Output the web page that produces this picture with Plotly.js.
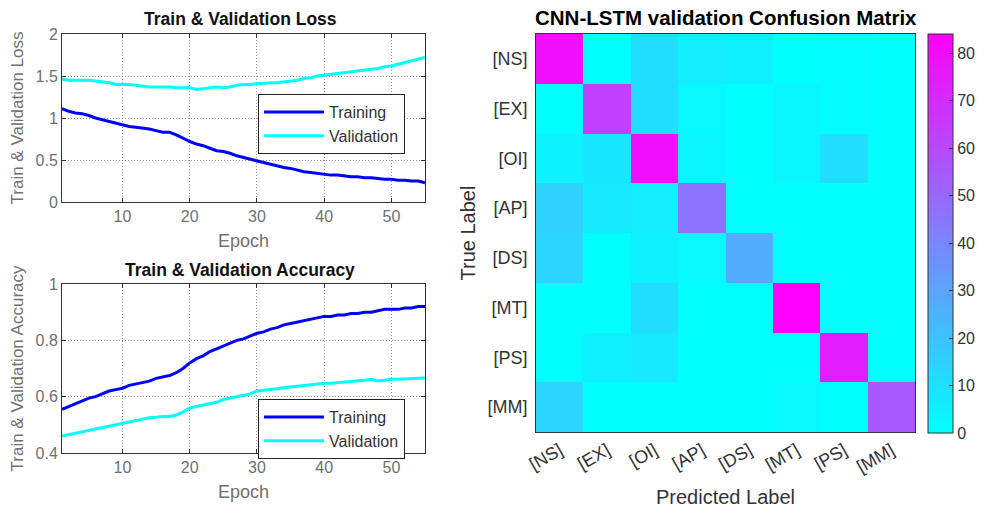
<!DOCTYPE html>
<html><head><meta charset="utf-8">
<script src="https://cdn.plot.ly/plotly-3.0.1.min.js"></script>
<style>html,body{margin:0;padding:0;background:#fff}#plot{width:1006px;height:516px}</style>
</head><body><div id="plot"></div>
<script>
const epochs = Array.from({length:55},(_,i)=>i+1);
const trainLoss = [1.11,1.08,1.06,1.05,1.03,1.00,0.98,0.96,0.94,0.92,0.90,0.89,0.88,0.87,0.85,0.83,0.83,0.80,0.76,0.72,0.69,0.67,0.64,0.61,0.60,0.58,0.55,0.53,0.51,0.49,0.47,0.45,0.43,0.41,0.40,0.38,0.36,0.35,0.34,0.33,0.32,0.32,0.31,0.30,0.30,0.29,0.29,0.28,0.27,0.27,0.26,0.26,0.25,0.25,0.23];
const valLoss = [1.46,1.45,1.45,1.45,1.45,1.44,1.43,1.42,1.40,1.40,1.40,1.39,1.38,1.37,1.37,1.37,1.37,1.36,1.36,1.36,1.34,1.35,1.36,1.37,1.36,1.37,1.39,1.40,1.40,1.41,1.41,1.42,1.42,1.43,1.44,1.45,1.47,1.48,1.50,1.51,1.52,1.53,1.54,1.55,1.56,1.57,1.58,1.59,1.61,1.62,1.64,1.66,1.68,1.70,1.72];
const trainAcc = [0.555,0.565,0.575,0.585,0.595,0.60,0.61,0.62,0.625,0.63,0.64,0.645,0.65,0.655,0.665,0.67,0.675,0.685,0.70,0.72,0.735,0.745,0.76,0.77,0.78,0.79,0.80,0.805,0.815,0.825,0.83,0.84,0.845,0.855,0.86,0.865,0.87,0.875,0.88,0.885,0.885,0.89,0.89,0.895,0.895,0.90,0.90,0.905,0.91,0.91,0.91,0.915,0.915,0.92,0.92];
const valAcc = [0.46,0.465,0.47,0.475,0.48,0.485,0.49,0.495,0.50,0.505,0.51,0.515,0.52,0.525,0.527,0.53,0.53,0.535,0.545,0.56,0.565,0.57,0.575,0.58,0.59,0.595,0.60,0.605,0.61,0.62,0.622,0.625,0.628,0.632,0.635,0.638,0.64,0.642,0.645,0.648,0.648,0.65,0.652,0.654,0.655,0.658,0.662,0.656,0.658,0.662,0.662,0.663,0.664,0.665,0.666];
const classes = ["[NS]","[EX]","[OI]","[AP]","[DS]","[MT]","[PS]","[MM]"];
const confRows = [
  [79,0,11,6,5,0,1,0],
  [0,63,11,2,0,3,1,0],
  [4,8,79,3,0,3,11,0],
  [15,7,6,46,0,0,0,0],
  [14,0,5,2,27,0,0,0],
  [0,0,11,0,0,84,0,0],
  [0,5,7,0,0,0,74,0],
  [14,0,0,0,0,2,0,55]
];

const W=1006,H=516;
const px=v=>v/W, py=v=>(H-v)/H;
const gray='#707070';
const font='Liberation Sans, Arial, sans-serif';

const traces=[
  {x:epochs,y:trainLoss,type:'scatter',mode:'lines',name:'Training',line:{color:'#0000ff',width:3},xaxis:'x',yaxis:'y',legend:'legend'},
  {x:epochs,y:valLoss,type:'scatter',mode:'lines',name:'Validation',line:{color:'#00ffff',width:3},xaxis:'x',yaxis:'y',legend:'legend'},
  {x:epochs,y:trainAcc,type:'scatter',mode:'lines',name:'Training',line:{color:'#0000ff',width:3},xaxis:'x2',yaxis:'y2',legend:'legend2'},
  {x:epochs,y:valAcc,type:'scatter',mode:'lines',name:'Validation',line:{color:'#00ffff',width:3},xaxis:'x2',yaxis:'y2',legend:'legend2'},
  {z:confRows,x:classes,y:classes,type:'heatmap',xaxis:'x3',yaxis:'y3',zmin:0,zmax:84,
   colorscale:[[0,'#00ffff'],[1,'#ff00ff']],showscale:true,xgap:0,ygap:0,
   colorbar:{x:px(928),xanchor:'left',xpad:0,ypad:0,y:py(433),yanchor:'bottom',len:399,lenmode:'pixels',
     thickness:25,thicknessmode:'pixels',outlinecolor:'#333',outlinewidth:1,
     tickvals:[0,10,20,30,40,50,60,70,80],ticks:'inside',ticklen:4,tickcolor:'#333',
     tickfont:{family:font,size:16,color:'#333'}}}
];

function lineAxis(extra){
  return Object.assign({showline:true,mirror:'ticks',linecolor:'#333',linewidth:1,
    showgrid:true,gridcolor:'#999',griddash:'1px,2px',gridwidth:1,zeroline:false,
    ticks:'inside',ticklen:4,tickcolor:'#333',
    tickfont:{family:font,size:16,color:gray}},extra);
}

const layout={
  width:W,height:H,margin:{l:0,r:0,t:0,b:0},paper_bgcolor:'#fff',plot_bgcolor:'#fff',
  font:{family:font},
  xaxis:lineAxis({domain:[px(62),px(425)],range:[1,55],tickvals:[10,20,30,40,50],anchor:'y',
    title:{text:'Epoch',font:{family:font,size:18,color:gray},standoff:10}}),
  yaxis:lineAxis({domain:[py(202),py(34)],range:[0,2],tickvals:[0,0.5,1,1.5,2],anchor:'x',
    title:{text:'Train & Validation Loss',font:{family:font,size:17,color:gray},standoff:7}}),
  xaxis2:lineAxis({domain:[px(62),px(425)],range:[1,55],tickvals:[10,20,30,40,50],anchor:'y2',
    title:{text:'Epoch',font:{family:font,size:18,color:gray},standoff:10}}),
  yaxis2:lineAxis({domain:[py(453),py(284)],range:[0.4,1],tickvals:[0.4,0.6,0.8,1],anchor:'x2',
    title:{text:'Train & Validation Accuracy',font:{family:font,size:17,color:gray},standoff:7}}),
  xaxis3:{domain:[px(536),px(915)],anchor:'y3',type:'category',showline:true,mirror:true,linecolor:'#333',
    ticks:'',tickangle:-30,tickfont:{family:font,size:18,color:'#333'},showgrid:false,zeroline:false,
    title:{text:'Predicted Label',font:{family:font,size:20,color:'#333'},standoff:14}},
  yaxis3:{domain:[py(432),py(34)],anchor:'x3',type:'category',autorange:'reversed',showline:true,mirror:true,linecolor:'#333',
    ticks:'',ticklabelstandoff:4,tickfont:{family:font,size:18,color:'#333'},showgrid:false,zeroline:false,
    title:{text:'True Label',font:{family:font,size:20,color:'#333'},standoff:6}},
  legend:{x:px(258),y:py(94),xanchor:'left',yanchor:'top',bgcolor:'#fff',bordercolor:'#222',borderwidth:1,
    font:{family:font,size:16,color:'#333'},itemwidth:60,tracegroupgap:0},
  legend2:{x:px(258),y:py(399),xanchor:'left',yanchor:'top',bgcolor:'#fff',bordercolor:'#222',borderwidth:1,
    font:{family:font,size:16,color:'#333'},itemwidth:60,tracegroupgap:0},
  annotations:[
    {text:'<b>Train & Validation Loss</b>',x:px(240),y:py(19),xref:'paper',yref:'paper',showarrow:false,
     font:{family:font,size:17.5,color:'#111'},xanchor:'center',yanchor:'middle'},
    {text:'<b>Train & Validation Accuracy</b>',x:px(240),y:py(270),xref:'paper',yref:'paper',showarrow:false,
     font:{family:font,size:17.5,color:'#111'},xanchor:'center',yanchor:'middle'},
    {text:'<b>CNN-LSTM validation Confusion Matrix</b>',x:px(726),y:py(18),xref:'paper',yref:'paper',showarrow:false,
     font:{family:font,size:20.5,color:'#000'},xanchor:'center',yanchor:'middle'}
  ]
};
Plotly.newPlot('plot',traces,layout,{displayModeBar:false,staticPlot:true});
</script></body></html>
